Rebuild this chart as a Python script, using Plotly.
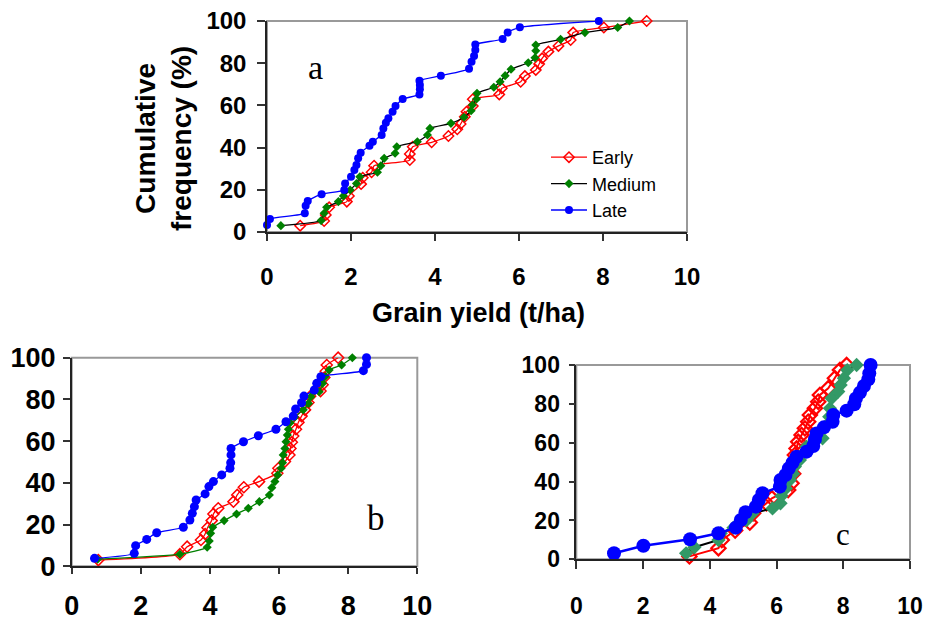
import plotly.graph_objects as go

# ---------------- data ----------------
# Panel a
early_a_x = [0.79, 1.36, 1.40, 1.48, 1.90, 1.95, 2.24, 2.28, 2.49, 2.55, 3.40, 3.40, 3.47, 3.92, 4.32, 4.53, 4.61,
             4.71, 4.75, 4.90, 4.90, 5.53, 5.59, 6.04, 6.14, 6.40, 6.48, 6.55, 6.70, 6.94, 7.23, 7.29, 8.02, 9.04]
early_a_y = [3.0, 5.2, 8.1, 11.7, 14.4, 17.1, 22.7, 25.7, 28.3, 31.4, 34.1, 37.0, 40.4, 42.5, 45.5, 48.7, 51.2,
             54.6, 57.0, 59.7, 62.9, 65.2, 68.1, 71.2, 73.9, 76.8, 79.6, 82.3, 85.5, 88.2, 91.0, 94.5, 96.9, 100]
medium_a_x = [0.33, 1.29, 1.36, 1.42, 1.70, 1.82, 1.98, 2.13, 2.21, 2.63, 2.71, 2.79, 3.05, 3.09, 3.58, 3.82, 3.88,
              4.38, 4.69, 4.86, 4.89, 4.99, 5.00, 5.40, 5.55, 5.67, 5.81, 6.22, 6.38, 6.40, 6.40, 6.99, 7.57, 8.35, 8.63]
medium_a_y = [3.0, 5.4, 8.9, 11.7, 14.4, 17.1, 19.9, 23.0, 26.2, 28.3, 31.4, 34.9, 37.3, 40.4, 42.8, 46.0, 49.1,
              51.5, 54.4, 57.5, 60.2, 63.0, 65.7, 68.6, 71.2, 74.1, 77.1, 80.2, 82.6, 85.9, 88.6, 91.3, 94.5, 96.9, 100]
late_a_x = [0.00, 0.07, 0.90, 0.92, 0.97, 1.30, 1.84, 1.86, 2.00, 2.08, 2.13, 2.17, 2.23, 2.44, 2.52, 2.73, 2.77,
            2.83, 2.89, 2.99, 3.06, 3.23, 3.63, 3.64, 3.64, 3.63, 4.14, 4.81, 4.87, 4.93, 4.96, 4.96, 5.61, 5.73,
            6.02, 7.90]
late_a_y = [3.3, 6.2, 8.9, 12.5, 14.7, 17.9, 19.9, 23.0, 26.2, 29.4, 31.8, 34.9, 37.6, 40.9, 42.8, 46.0, 49.1,
            51.8, 53.9, 57.0, 59.7, 63.0, 65.2, 67.6, 69.7, 71.7, 74.1, 77.4, 80.7, 83.4, 86.3, 88.9, 91.5, 94.6,
            97.0, 100]

# Panel b
early_b_x = [0.77, 3.13, 3.34, 3.74, 3.86, 3.93, 4.05, 4.10, 4.24, 4.68, 4.79, 4.98, 5.42, 5.95, 5.98, 6.17, 6.30,
             6.33, 6.37, 6.41, 6.49, 6.56, 6.65, 6.75, 6.85, 6.90, 7.20, 7.26, 7.31, 7.35, 7.38, 7.71]
early_b_y = [3.0, 5.8, 9.4, 12.6, 15.5, 18.5, 21.9, 25.1, 27.8, 31.0, 34.2, 37.9, 40.6, 44.6, 47.0, 50.2, 53.4,
             56.5, 59.5, 62.5, 65.7, 69.0, 72.0, 75.0, 78.5, 81.5, 84.0, 87.0, 90.5, 93.5, 96.5, 100]
medium_b_x = [0.75, 3.13, 3.92, 3.98, 4.02, 4.08, 4.41, 4.77, 5.11, 5.43, 5.72, 5.79, 5.88, 5.96, 6.06, 6.10, 6.12,
              6.17, 6.20, 6.24, 6.27, 6.32, 6.45, 6.70, 6.85, 6.92, 7.16, 7.26, 7.33, 7.45, 7.81, 8.12]
medium_b_y = [3.4, 5.8, 9.1, 12.1, 15.8, 18.7, 21.9, 25.1, 27.8, 31.0, 34.2, 37.7, 40.6, 43.8, 47.0, 49.7, 53.4,
              56.5, 59.7, 62.9, 65.7, 68.8, 71.5, 75.0, 78.1, 81.3, 83.7, 87.7, 90.9, 94.1, 96.5, 100]
late_b_x = [0.66, 1.81, 1.85, 2.17, 2.46, 3.23, 3.42, 3.49, 3.55, 3.60, 3.86, 3.97, 4.10, 4.34, 4.58, 4.60, 4.61,
            4.61, 4.97, 5.40, 5.91, 6.20, 6.41, 6.48, 6.65, 6.72, 7.02, 7.09, 7.21, 8.44, 8.53, 8.53]
late_b_y = [3.8, 6.2, 9.9, 12.9, 16.1, 18.7, 22.2, 25.4, 28.6, 31.8, 34.7, 38.2, 40.6, 43.8, 47.0, 49.7, 53.4,
            56.5, 59.7, 62.6, 65.7, 69.3, 72.0, 75.4, 78.4, 81.6, 84.5, 87.7, 90.9, 93.8, 96.8, 100]

# Panel c
early_c_x = [3.39, 4.26, 4.36, 4.76, 5.20, 5.30, 5.70, 5.86, 6.35, 6.45, 6.50, 6.55, 6.60, 6.65, 6.75, 6.85, 6.95,
             7.00, 7.15, 7.25, 7.30, 7.55, 7.75, 7.90, 8.10]
early_c_y = [1.5, 5.7, 9.9, 14.8, 18.9, 23.7, 28.8, 31.4, 35.7, 39.1, 44.0, 53.7, 57.0, 60.5, 64.0, 67.4, 70.8,
             74.3, 77.7, 81.1, 84.6, 88.0, 93.2, 97.4, 100]
medium_c_x = [3.29, 3.54, 4.26, 4.33, 4.71, 5.10, 5.28, 5.88, 6.12, 6.15, 6.28, 6.40, 6.50, 6.55, 6.70, 6.80, 6.90,
              7.15, 7.38, 7.50, 7.58, 7.60, 7.65, 7.85, 7.92, 8.02, 8.12, 8.40]
medium_c_y = [3.1, 6.2, 9.9, 13.4, 16.3, 20.0, 23.7, 26.2, 28.8, 32.6, 36.5, 40.8, 44.0, 47.7, 51.1, 54.5, 58.0,
              61.4, 62.3, 69.0, 73.4, 77.7, 82.9, 86.3, 89.7, 93.2, 97.4, 100]
late_c_x = [1.13, 2.01, 3.41, 4.26, 4.78, 4.93, 5.07, 5.38, 5.47, 5.58, 6.10, 6.12, 6.27, 6.37, 6.48, 6.60, 6.90,
            7.10, 7.15, 7.20, 7.42, 7.68, 7.70, 8.10, 8.33, 8.38, 8.50, 8.62, 8.75, 8.78, 8.82]
late_c_y = [3.1, 7.0, 10.3, 13.4, 16.3, 20.2, 24.2, 27.1, 30.5, 34.0, 37.4, 40.8, 43.4, 46.8, 49.7, 52.8, 55.4,
            58.3, 61.7, 64.8, 67.9, 70.8, 74.3, 76.5, 79.8, 82.8, 85.8, 89.2, 92.6, 95.7, 100]

series_names = ["Early", "Medium", "Late"]
x_ticks = [0, 2, 4, 6, 8, 10]
y_ticks = [0, 20, 40, 60, 80, 100]

# ---------------- figure ----------------
W, H = 927, 623
fig = go.Figure()

# panel a
fig.add_trace(go.Scatter(x=early_a_x, y=early_a_y, name=series_names[0], mode="lines+markers",
                         line=dict(color="#FF0000", width=1.3, shape="spline", smoothing=0.5),
                         marker=dict(symbol="diamond-open", size=8, color="#FF0000", line=dict(width=1.5)),
                         xaxis="x", yaxis="y", cliponaxis=False))
fig.add_trace(go.Scatter(x=medium_a_x, y=medium_a_y, name=series_names[1], mode="lines+markers",
                         line=dict(color="#000000", width=1.3, shape="spline", smoothing=0.5),
                         marker=dict(symbol="diamond", size=7, color="#008000"),
                         xaxis="x", yaxis="y", cliponaxis=False))
fig.add_trace(go.Scatter(x=late_a_x, y=late_a_y, name=series_names[2], mode="lines+markers",
                         line=dict(color="#0000FF", width=1.3, shape="spline", smoothing=0.5),
                         marker=dict(symbol="circle", size=8, color="#0000FF"),
                         xaxis="x", yaxis="y", cliponaxis=False))

# panel b
fig.add_trace(go.Scatter(x=early_b_x, y=early_b_y, name=series_names[0], mode="lines+markers", showlegend=False,
                         line=dict(color="#FF0000", width=1.3, shape="spline", smoothing=0.5),
                         marker=dict(symbol="diamond-open", size=8.5, color="#FF0000", line=dict(width=1.5)),
                         xaxis="x2", yaxis="y2", cliponaxis=False))
fig.add_trace(go.Scatter(x=medium_b_x, y=medium_b_y, name=series_names[1], mode="lines+markers", showlegend=False,
                         line=dict(color="#008000", width=1.3, shape="spline", smoothing=0.5),
                         marker=dict(symbol="diamond", size=7, color="#008000"),
                         xaxis="x2", yaxis="y2", cliponaxis=False))
fig.add_trace(go.Scatter(x=late_b_x, y=late_b_y, name=series_names[2], mode="lines+markers", showlegend=False,
                         line=dict(color="#0000FF", width=1.3, shape="spline", smoothing=0.5),
                         marker=dict(symbol="circle", size=9, color="#0000FF"),
                         xaxis="x2", yaxis="y2", cliponaxis=False))

# panel c
fig.add_trace(go.Scatter(x=early_c_x, y=early_c_y, name=series_names[0], mode="lines+markers", showlegend=False,
                         line=dict(color="#FF0000", width=2),
                         marker=dict(symbol="diamond-open", size=11, color="#FF0000", line=dict(width=2.2)),
                         xaxis="x3", yaxis="y3", cliponaxis=False))
fig.add_trace(go.Scatter(x=medium_c_x, y=medium_c_y, name=series_names[1], mode="lines+markers", showlegend=False,
                         line=dict(color="#000000", width=2),
                         marker=dict(symbol="diamond", size=11, color="#339966"),
                         xaxis="x3", yaxis="y3", cliponaxis=False))
fig.add_trace(go.Scatter(x=late_c_x, y=late_c_y, name=series_names[2], mode="lines+markers", showlegend=False,
                         line=dict(color="#0000FF", width=2.5),
                         marker=dict(symbol="circle", size=14, color="#0000FF"),
                         xaxis="x3", yaxis="y3", cliponaxis=False))

def xax(dom, anchor, fs, standoff, ticklen):
    return dict(domain=dom, anchor=anchor, range=[0, 10], tickvals=x_ticks, ticks="outside", ticklen=ticklen,
                tickcolor="#333333", tickwidth=1.5, showline=True, linecolor="#222222", linewidth=1.5,
                showgrid=False, zeroline=False, ticklabelstandoff=standoff, automargin=False,
                tickfont=dict(family="Liberation Sans, Arial", size=fs, color="#000000", weight="bold"))

def yax(dom, anchor, fs, standoff, ticklen):
    return dict(domain=dom, anchor=anchor, range=[0, 100], tickvals=y_ticks, ticks="outside", ticklen=ticklen,
                tickcolor="#333333", tickwidth=1.5, showline=True, linecolor="#222222", linewidth=1.5,
                showgrid=False, zeroline=False, ticklabelstandoff=standoff, automargin=False,
                tickfont=dict(family="Liberation Sans, Arial", size=fs, color="#000000", weight="bold"))

fig.update_layout(
    width=W, height=H, margin=dict(l=0, r=0, t=0, b=0, autoexpand=False),
    paper_bgcolor="white", plot_bgcolor="white",
    xaxis=xax([267 / W, 687 / W], "y", 24, 15, 7),
    yaxis=yax([1 - 232 / H, 1 - 21 / H], "x", 24, 6, 8),
    xaxis2=xax([71.7 / W, 417.3 / W], "y2", 27, 9, 6),
    yaxis2=yax([1 - 566.3 / H, 1 - 357.7 / H], "x2", 27, 2, 7),
    xaxis3=xax([576.3 / W, 910 / W], "y3", 23, 17, 8),
    yaxis3=yax([1 - 559.3 / H, 1 - 365 / H], "x3", 23, 4, 6),
    showlegend=True,
    legend=dict(x=546 / W, y=1 - 139 / H, xanchor="left", yanchor="top", bgcolor="rgba(0,0,0,0)",
                itemwidth=36,
                font=dict(family="Liberation Sans, Arial", size=18, color="#000000"), tracegroupgap=0),
)

# frames (top/right borders in grey)
for xr, yr in [("x", "y"), ("x2", "y2"), ("x3", "y3")]:
    fig.add_shape(type="rect", xref=f"{xr} domain", yref=f"{yr} domain", x0=0, x1=1, y0=0, y1=1,
                  line=dict(color="#999999", width=2), layer="below")

ann_font = dict(family="Liberation Sans, Arial", color="#000000", weight="bold")
fig.add_annotation(text="Cumulative<br>frequency (%)", xref="paper", yref="paper", x=163 / W, y=1 - 139 / H,
                   xanchor="center", yanchor="middle",
                   textangle=-90, showarrow=False, font=dict(size=28, **ann_font))
fig.add_annotation(text="Grain yield (t/ha)", xref="paper", yref="paper", x=478 / W, y=1 - 313 / H,
                   xanchor="center", yanchor="middle",
                   showarrow=False, font=dict(size=27, **ann_font))
serif = dict(family="Liberation Serif, Times New Roman", color="#000000")
fig.add_annotation(text="a", xref="paper", yref="paper", x=315 / W, y=1 - 68 / H, showarrow=False,
                   xanchor="center", yanchor="middle", font=dict(size=34, **serif))
fig.add_annotation(text="b", xref="paper", yref="paper", x=375.5 / W, y=1 - 518 / H, showarrow=False,
                   xanchor="center", yanchor="middle", font=dict(size=35, **serif))
fig.add_annotation(text="c", xref="paper", yref="paper", x=842.5 / W, y=1 - 534 / H, showarrow=False,
                   xanchor="center", yanchor="middle", font=dict(size=31, **serif))

fig.write_html("out.html")
